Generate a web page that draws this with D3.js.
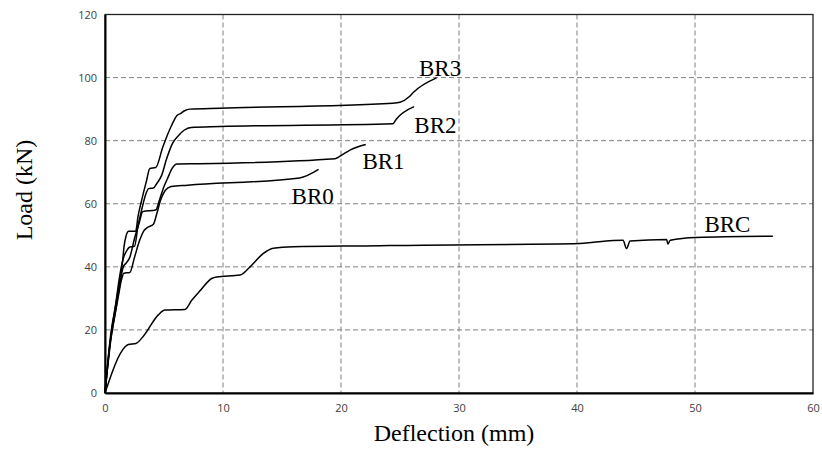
<!DOCTYPE html>
<html lang="en">
<head>
<meta charset="utf-8">
<title>Load - Deflection</title>
<style>
  body { margin: 0; background: #fff; }
  .tick text { font: 11px "Open Sans", sans-serif; fill: #404040; }
  .title { font: 24px "Liberation Serif", "Times New Roman", serif; fill: #000; }
  .lbl { font: 23px "Liberation Serif", "Times New Roman", serif; fill: #000; }
</style>
</head>
<body>
<svg id="chart" width="822" height="449"></svg>
<script src="https://d3js.org/d3.v7.min.js"></script>
<script>
// deflection (mm) / load (kN)
const brcX = [0, 1.69, 1.98, 2.62, 3.25, 4.5, 5.08, 6.78, 7.35, 8.05, 9.04, 9.46, 11.44, 12.29, 13.4, 14.26, 15.96, 23.3, 25.0, 40.25, 41.4, 43.9, 44.2, 44.5, 47.6, 47.7, 47.9, 50.1, 56.6];
const brcY = [0, 14.6, 15.4, 15.7, 18.0, 24.7, 26.3, 26.5, 29.4, 32.4, 36.3, 36.8, 37.4, 40.0, 44.2, 45.9, 46.4, 46.7, 46.8, 47.4, 47.8, 48.4, 45.8, 48.2, 48.7, 47.2, 48.4, 49.3, 49.7];

const br0X = [0, 0.4, 0.8, 1.1, 1.4, 1.6, 2.1, 2.5, 2.9, 3.3, 3.6, 4.1, 4.4, 4.7, 5.1, 5.6, 7, 16.5, 18.1];
const br0Y = [0, 15, 24, 30, 36, 38, 38.2, 43, 48, 51.5, 52.5, 53.5, 57, 61, 64.2, 65.5, 65.9, 68.2, 70.9];

const br1X = [0, 0.5, 0.9, 1.2, 1.55, 1.8, 2.1, 2.5, 2.9, 3.2, 4.3, 4.6, 5.0, 5.3, 5.7, 6.1, 8, 19.5, 20.06, 20.8, 22.1];
const br1Y = [0, 17, 26, 33, 40, 41.2, 43, 49, 54, 57.5, 58, 61, 65.5, 68, 71.3, 72.6, 72.7, 74.3, 75.4, 77.1, 78.8];

const br2X = [0, 0.5, 0.9, 1.2, 1.5, 1.9, 2.1, 2.5, 2.8, 3.1, 3.5, 3.7, 4.1, 4.4, 4.8, 5.2, 5.7, 6.2, 6.7, 7.3, 9.75, 24.4, 24.7, 26.2];
const br2Y = [0, 19, 28, 36, 42, 45.5, 46.3, 46.5, 53, 58, 63.5, 64.8, 65, 66.5, 69, 74, 79, 81.5, 83.3, 84.2, 84.5, 85.4, 86.9, 90.8];

const br3X = [0, 0.5, 1.0, 1.5, 1.6, 1.8, 2.0, 2.6, 2.8, 3.1, 3.5, 3.8, 4.3, 4.9, 5.6, 6.1, 6.4, 6.7, 7.2, 9.75, 24.4, 25.0, 25.8, 26.1, 28.1];
const br3Y = [0, 18, 30, 42, 46, 50, 51.3, 51.3, 56, 61, 67, 71.2, 71.5, 78, 84.5, 88, 88.6, 89.4, 90.0, 90.3, 91.9, 92.2, 94.0, 95.2, 99.9];

const seriesNames = ["BRC", "BR0", "BR1", "BR2", "BR3"];
const seriesX = [brcX, br0X, br1X, br2X, br3X];
const seriesY = [brcY, br0Y, br1Y, br2Y, br3Y];
// where each curve's name is written (data units, text baseline centre)
const labelX = [52.75, 17.6, 23.6, 28.0, 28.4];
const labelY = [51.0, 59.9, 71.0, 82.3, 100.4];

const xTicks = [0, 10, 20, 30, 40, 50, 60];
const yTicks = [0, 20, 40, 60, 80, 100, 120];

const svg = d3.select("#chart");
const margin = {top: 14.5, right: 8, bottom: 56, left: 105};
const g = svg.append("g").attr("transform", "translate(" + margin.left + "," + margin.top + ")");

const x = d3.scaleLinear().domain([0, 60]).range([0, 708]);
const y = d3.scaleLinear().domain([0, 120]).range([378.5, 0]);

// dashed grid
g.selectAll(".gx").data(xTicks.slice(1, -1)).enter().append("line")
    .attr("x1", d => x(d)).attr("x2", d => x(d))
    .attr("y1", 0).attr("y2", y(0))
    .attr("stroke", "#7f7f7f").attr("stroke-dasharray", "5,3");
g.selectAll(".gy").data(yTicks.slice(1, -1)).enter().append("line")
    .attr("x1", 0).attr("x2", x(60))
    .attr("y1", d => y(d)).attr("y2", d => y(d))
    .attr("stroke", "#7f7f7f").attr("stroke-dasharray", "5,3");

// frame
g.append("rect").attr("x", 0).attr("y", 0)
    .attr("width", x(60)).attr("height", y(0))
    .attr("fill", "none").attr("stroke", "#222").attr("stroke-width", 1.3);

// axes
const xAxis = g.append("g").attr("transform", "translate(0," + y(0) + ")")
    .call(d3.axisBottom(x).tickValues(xTicks).tickSize(0).tickPadding(11));
const yAxis = g.append("g")
    .call(d3.axisLeft(y).tickValues(yTicks).tickSize(0).tickPadding(8));
xAxis.select(".domain").attr("stroke", "#000").attr("stroke-width", 2);
yAxis.select(".domain").attr("stroke", "#000").attr("stroke-width", 2);

// curves
const line = d3.line()
    .x(d => x(d[0])).y(d => y(d[1]))
    .curve(d3.curveMonotoneX);
seriesNames.forEach(function(name, i) {
    const pts = seriesX[i].map((v, j) => [v, seriesY[i][j]]);
    g.append("path").datum(pts)
        .attr("d", line)
        .attr("fill", "none").attr("stroke", "#000").attr("stroke-width", 1.5);
    g.append("text").attr("class", "lbl")
        .attr("x", x(labelX[i])).attr("y", y(labelY[i]))
        .attr("text-anchor", "middle")
        .text(name);
});

// axis titles
svg.append("text").attr("class", "title")
    .attr("x", 454).attr("y", 441)
    .attr("text-anchor", "middle").text("Deflection (mm)");
svg.append("text").attr("class", "title")
    .attr("transform", "translate(32,190) rotate(-90)")
    .attr("text-anchor", "middle").text("Load (kN)");
</script>
</body>
</html>
